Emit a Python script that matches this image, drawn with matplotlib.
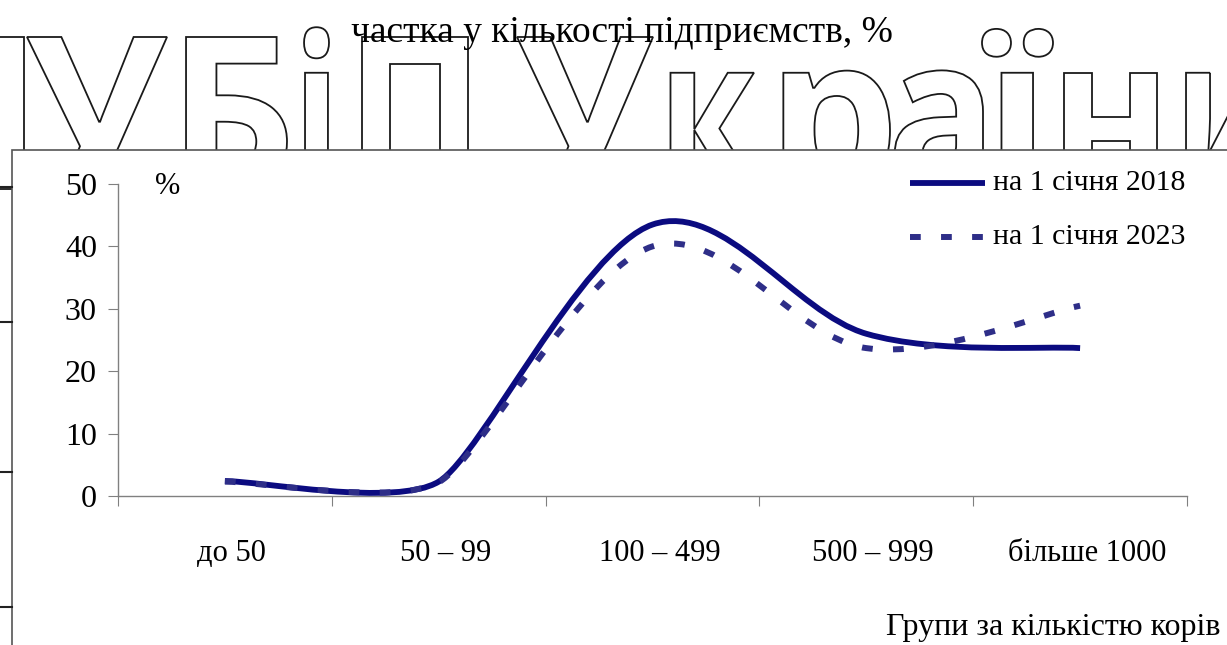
import matplotlib
matplotlib.use("Agg")
import matplotlib.pyplot as plt
import matplotlib.transforms as mtransforms
from matplotlib.path import Path
from matplotlib.patches import PathPatch, Rectangle
from matplotlib.lines import Line2D
from matplotlib.textpath import TextPath
from matplotlib.font_manager import FontProperties
import numpy as np

# data
groups = ['до 50', '50 – 99', '100 – 499', '500 – 999', 'більше 1000']
share_2018 = [2.4, 2.3, 43.5, 26.0, 23.7]
share_2023 = [2.3, 2.2, 40.0, 23.7, 30.5]
label_2018 = 'на 1 січня 2018'
label_2023 = 'на 1 січня 2023'

W, H = 1227, 645
serif = 'Liberation Serif'


def px(x, y):
    # image pixel -> figure fraction
    return x / W, (H - y) / H


def smooth_path(xs, ys, tens):
    # excel-like smoothed line: cubic bezier through the points
    n = len(xs)
    verts = [(xs[0], ys[0])]
    codes = [Path.MOVETO]
    for i in range(n - 1):
        a = i - 1 if i > 0 else i
        b = i + 2 if i + 2 < n else i + 1
        k1, k2 = tens[i], tens[i + 1]
        c1 = (xs[i] + k1 * (xs[i + 1] - xs[a]), ys[i] + k1 * (ys[i + 1] - ys[a]))
        c2 = (xs[i + 1] - k2 * (xs[b] - xs[i]), ys[i + 1] - k2 * (ys[b] - ys[i]))
        verts += [c1, c2, (xs[i + 1], ys[i + 1])]
        codes += [Path.CURVE4] * 3
    return Path(verts, codes)


fig = plt.figure(figsize=(W / 100, H / 100), dpi=100)
fig.patch.set_facecolor('white')

# watermark "НУБіП України" in outline letters, behind the chart box
wm_font = FontProperties(family='Open Sans', weight='bold')
wm_letters = [('Н', -99, 24), ('У', 27, 167), ('Б', 168, 287), ('і', 293, 329),
              ('П', 345, 468), ('У', 517, 653), ('к', 658, 757), ('р', 767, 890),
              ('а', 887, 983), ('ї', 982, 1053), ('н', 1050, 1157), ('и', 1173, 1280)]
cap_h = TextPath((0, 0), 'Н', size=1, prop=wm_font).vertices[:, 1].max()
base_y, cap_top = 189, 37
sy = (base_y - cap_top) / cap_h
for ch, x0, x1 in wm_letters:
    tp = TextPath((0, 0), ch, size=1, prop=wm_font)
    v = tp.vertices.copy()
    xmin, xmax = v[:, 0].min(), v[:, 0].max()
    vx = x0 + (v[:, 0] - xmin) * (x1 - x0) / (xmax - xmin)
    vy = base_y - v[:, 1] * sy
    nv = np.column_stack([vx / W, (H - vy) / H])
    fig.add_artist(PathPatch(Path(nv, tp.codes), facecolor='none', edgecolor='#1a1a1a',
                             lw=1.3, transform=fig.transFigure, zorder=-3))

# chart box covering the watermark
bx, by = px(12, 150)
fig.add_artist(Rectangle((bx, -0.1), 1.1, by + 0.1, transform=fig.transFigure,
                         facecolor='white', edgecolor='#555555', lw=1.2, zorder=-2))
# leftover marks at the left edge
for yy in [187, 322, 472, 607]:
    fig.add_artist(Line2D([0, 12 / W], [(H - yy) / H] * 2, color='#222222', lw=1.5,
                          transform=fig.transFigure, zorder=-1))

fig.text(622 / W, (H - 33) / H, 'частка у кількості підприємств, %', family=serif,
         fontsize=27, ha='center', va='center', zorder=2)

ax = fig.add_axes([118 / W, (H - 496) / H, 1069 / W, 312 / H])
ax.set_facecolor('none')
xs = np.arange(len(groups))
ax.set_xlim(-0.5, len(groups) - 0.5)
ax.set_ylim(0, 50)

tens = [1 / 6, 0.1, 1 / 6, 1 / 6, 1 / 6]
ax.add_patch(PathPatch(smooth_path(xs, share_2018, tens), facecolor='none',
                       edgecolor='#0b0b80', lw=4.2, zorder=3, capstyle='butt'))
ax.add_patch(PathPatch(smooth_path(xs, share_2023, tens), facecolor='none',
                       edgecolor='#2e2e88', lw=4.3, linestyle=(0, (1.8, 3.4)), zorder=4))

for s in ['top', 'right']:
    ax.spines[s].set_visible(False)
for s in ['left', 'bottom']:
    ax.spines[s].set_color('#808080')
    ax.spines[s].set_linewidth(1.0)

ax.set_xticks(np.arange(-0.5, len(groups), 1.0))
ax.set_xticklabels([])
ax.set_xticks(xs, minor=True)
ax.set_xticklabels(groups, minor=True, family=serif, fontsize=22)
ax.tick_params(axis='x', which='major', length=7.2, color='#808080', direction='out')
ax.tick_params(axis='x', which='minor', length=0, pad=31)
# category labels sit a little right of the category centres
shift = mtransforms.ScaledTranslation(0.07, 0, fig.dpi_scale_trans)
for lab in ax.get_xticklabels(minor=True):
    lab.set_transform(lab.get_transform() + shift)
ax.set_yticks(range(0, 51, 10))
ax.set_yticklabels([str(v) for v in range(0, 51, 10)], family=serif, fontsize=23)
ax.tick_params(axis='y', length=7.2, color='#808080', pad=8)

fig.text(168 / W, (H - 186) / H, '%', family=serif, fontsize=22, ha='center', va='center')
fig.text(1220 / W, (H - 628) / H, 'Групи за кількістю корів', family=serif,
         fontsize=23, ha='right', va='center')

# legend
for yy, lab, col, lw, ls in [(183, label_2018, '#0b0b80', 4.2, '-'),
                             (237, label_2023, '#2e2e88', 4.3, (0, (1.8, 3.4)))]:
    fig.add_artist(Line2D([910 / W, 985 / W], [(H - yy) / H] * 2, color=col, lw=lw,
                          linestyle=ls, solid_capstyle='butt', dash_capstyle='butt',
                          transform=fig.transFigure))
    fig.text(993 / W, (H - yy) / H, lab, family=serif, fontsize=21.5, ha='left', va='center')

fig.savefig('out.png', dpi=100, facecolor='white')
